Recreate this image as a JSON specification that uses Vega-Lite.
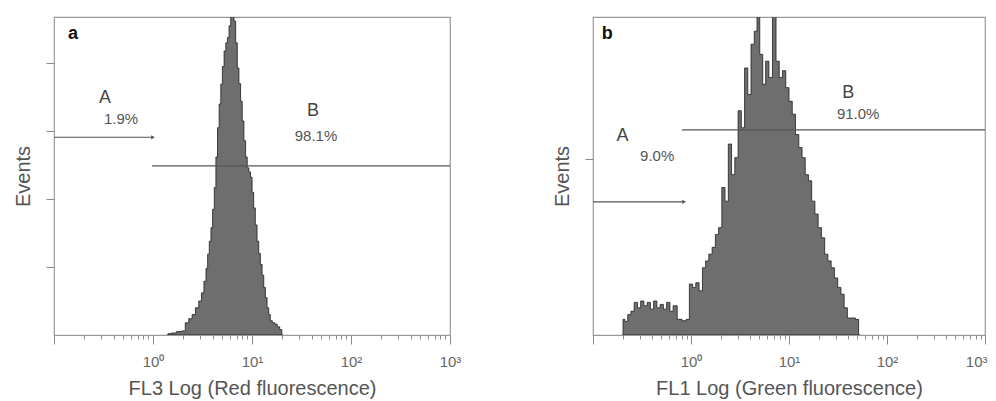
{
  "$schema": "https://vega.github.io/schema/vega-lite/v6.json",
  "background": "white",
  "padding": {"left": 12, "top": 16, "right": 0, "bottom": 0},
  "spacing": 89,
  "config": {
    "view": {"stroke": "#9a9a9a", "strokeWidth": 1.2},
    "font": "Liberation Sans",
    "axis": {"grid": false, "domain": false, "tickColor": "#8a8a8a", "tickWidth": 1, "labelColor": "#666", "labelFontSize": 15, "titleColor": "#555", "titleFontSize": 20, "titleFontWeight": "normal", "labelFont": "Liberation Sans", "titleFont": "Liberation Sans"}
  },
  "datasets": {
    "histA": [
      {"fl": 1.39, "n": 0}, {"fl": 1.45, "n": 2}, {"fl": 1.62, "n": 3}, {"fl": 1.85, "n": 5}, {"fl": 2.04, "n": 6},
      {"fl": 2.2, "n": 18}, {"fl": 2.4, "n": 24}, {"fl": 2.57, "n": 30}, {"fl": 2.8, "n": 40}, {"fl": 3.0, "n": 50},
      {"fl": 3.18, "n": 62}, {"fl": 3.36, "n": 79}, {"fl": 3.5, "n": 98}, {"fl": 3.63, "n": 119}, {"fl": 3.78, "n": 138},
      {"fl": 3.92, "n": 158}, {"fl": 4.08, "n": 185}, {"fl": 4.24, "n": 217}, {"fl": 4.4, "n": 262}, {"fl": 4.57, "n": 305},
      {"fl": 4.75, "n": 340}, {"fl": 4.93, "n": 369}, {"fl": 5.12, "n": 395}, {"fl": 5.33, "n": 418}, {"fl": 5.55, "n": 430},
      {"fl": 5.75, "n": 438}, {"fl": 5.98, "n": 455}, {"fl": 6.21, "n": 480}, {"fl": 6.45, "n": 470}, {"fl": 6.71, "n": 462},
      {"fl": 6.97, "n": 430}, {"fl": 7.24, "n": 393}, {"fl": 7.52, "n": 370}, {"fl": 7.82, "n": 344}, {"fl": 8.12, "n": 315},
      {"fl": 8.45, "n": 286}, {"fl": 8.78, "n": 262}, {"fl": 9.12, "n": 246}, {"fl": 9.48, "n": 240}, {"fl": 9.84, "n": 232},
      {"fl": 10.2, "n": 210}, {"fl": 10.6, "n": 187}, {"fl": 11.0, "n": 162}, {"fl": 11.5, "n": 138}, {"fl": 11.9, "n": 120},
      {"fl": 12.4, "n": 104}, {"fl": 12.9, "n": 88}, {"fl": 13.4, "n": 70}, {"fl": 13.9, "n": 55}, {"fl": 14.5, "n": 40},
      {"fl": 15.0, "n": 30}, {"fl": 15.6, "n": 21}, {"fl": 16.5, "n": 18}, {"fl": 17.5, "n": 16}, {"fl": 18.5, "n": 12},
      {"fl": 19.6, "n": 8}, {"fl": 20.4, "n": 0}
    ],
    "histB": [
      {"fl": 0.2, "n": 0}, {"fl": 0.205, "n": 23}, {"fl": 0.218, "n": 20}, {"fl": 0.235, "n": 30}, {"fl": 0.253, "n": 35},
      {"fl": 0.274, "n": 48}, {"fl": 0.295, "n": 40}, {"fl": 0.318, "n": 50}, {"fl": 0.344, "n": 43}, {"fl": 0.371, "n": 48},
      {"fl": 0.4, "n": 38}, {"fl": 0.432, "n": 50}, {"fl": 0.466, "n": 40}, {"fl": 0.503, "n": 45}, {"fl": 0.543, "n": 38},
      {"fl": 0.586, "n": 48}, {"fl": 0.633, "n": 35}, {"fl": 0.683, "n": 43}, {"fl": 0.766, "n": 23}, {"fl": 0.859, "n": 21},
      {"fl": 0.927, "n": 23}, {"fl": 1.0, "n": 75}, {"fl": 1.08, "n": 70}, {"fl": 1.16, "n": 77}, {"fl": 1.26, "n": 65},
      {"fl": 1.36, "n": 99}, {"fl": 1.46, "n": 109}, {"fl": 1.58, "n": 119}, {"fl": 1.71, "n": 129}, {"fl": 1.84, "n": 148},
      {"fl": 1.99, "n": 158}, {"fl": 2.14, "n": 217}, {"fl": 2.31, "n": 197}, {"fl": 2.5, "n": 281}, {"fl": 2.69, "n": 236},
      {"fl": 2.91, "n": 261}, {"fl": 3.14, "n": 330}, {"fl": 3.39, "n": 305}, {"fl": 3.66, "n": 393}, {"fl": 3.94, "n": 354},
      {"fl": 4.26, "n": 428}, {"fl": 4.59, "n": 447}, {"fl": 4.84, "n": 480}, {"fl": 5.23, "n": 413}, {"fl": 5.56, "n": 369},
      {"fl": 6.0, "n": 403}, {"fl": 6.48, "n": 379}, {"fl": 7.1, "n": 480}, {"fl": 7.66, "n": 403}, {"fl": 8.26, "n": 379},
      {"fl": 8.92, "n": 389}, {"fl": 9.62, "n": 364}, {"fl": 10.4, "n": 344}, {"fl": 11.2, "n": 325}, {"fl": 12.1, "n": 295},
      {"fl": 13.1, "n": 276}, {"fl": 14.1, "n": 261}, {"fl": 15.2, "n": 236}, {"fl": 16.4, "n": 227}, {"fl": 17.7, "n": 197},
      {"fl": 19.1, "n": 178}, {"fl": 20.6, "n": 158}, {"fl": 22.3, "n": 143}, {"fl": 24.0, "n": 119}, {"fl": 25.9, "n": 109},
      {"fl": 28.0, "n": 99}, {"fl": 30.2, "n": 84}, {"fl": 32.6, "n": 70}, {"fl": 35.2, "n": 60}, {"fl": 37.9, "n": 40},
      {"fl": 41.0, "n": 25}, {"fl": 45.3, "n": 25}, {"fl": 50.0, "n": 23}, {"fl": 52.7, "n": 0}
    ],
    "gatesA": [
      {"gate": "A", "x1": 0.1, "x2": 1.0, "y": 291},
      {"gate": "B", "x1": 0.98, "x2": 1000, "y": 249}
    ],
    "gatesB": [
      {"gate": "A", "x1": 0.1, "x2": 0.85, "y": 196},
      {"gate": "B", "x1": 0.81, "x2": 1000, "y": 302}
    ],
    "labelsA": [
      {"kind": "gate", "x": 0.327, "y": 349, "text": "A"},
      {"kind": "pct", "x": 0.475, "y": 318, "text": "1.9%"},
      {"kind": "gate", "x": 41.3, "y": 330, "text": "B"},
      {"kind": "pct", "x": 44.3, "y": 293, "text": "98.1%"},
      {"kind": "panel", "x": 0.156, "y": 443, "text": "a"}
    ],
    "labelsB": [
      {"kind": "gate", "x": 0.2, "y": 293, "text": "A"},
      {"kind": "pct", "x": 0.452, "y": 263, "text": "9.0%"},
      {"kind": "gate", "x": 40.2, "y": 356, "text": "B"},
      {"kind": "pct", "x": 50.8, "y": 325, "text": "91.0%"},
      {"kind": "panel", "x": 0.14, "y": 443, "text": "b"}
    ]
  },
  "hconcat": [
    {
      "width": 396,
      "height": 318,
      "layer": [
        {
          "data": {"name": "histA"},
          "mark": {"type": "area", "interpolate": "step", "color": "#6e6e6e", "stroke": "#1e1e1e", "strokeWidth": 0.8, "clip": true},
          "encoding": {
            "x": {"field": "fl", "type": "quantitative", "scale": {"type": "log", "domain": [0.1, 1000], "nice": false}, "title": "FL3 Log (Red fluorescence)",
              "axis": {"values": [0.1,0.2,0.3,0.4,0.5,0.6,0.7,0.8,0.9,1,2,3,4,5,6,7,8,9,10,20,30,40,50,60,70,80,90,100,200,300,400,500,600,700,800,900,1000],
                "tickSize": {"condition": {"test": "indexof([0.1,1,10,100,1000], datum.value) >= 0", "value": 9}, "value": 4},
                "labelExpr": "datum.value == 1 ? '10⁰' : datum.value == 10 ? '10¹' : datum.value == 100 ? '10²' : datum.value == 1000 ? '10³' : ''",
                "labelPadding": 10, "titlePadding": 9, "labelFlush": false, "labelOverlap": false}},
            "y": {"field": "n", "type": "quantitative", "scale": {"domain": [0, 468], "nice": false}, "title": "Events",
              "axis": {"values": [100, 200, 300, 400], "labels": false, "tickSize": 8, "titlePadding": 12}}
          }
        },
        {
          "data": {"name": "gatesA"},
          "mark": {"type": "rule", "color": "#555", "strokeWidth": 1.2},
          "encoding": {"x": {"field": "x1", "type": "quantitative"}, "x2": {"field": "x2"}, "y": {"field": "y", "type": "quantitative"}}
        },
        {
          "data": {"name": "gatesA"},
          "transform": [{"filter": "datum.gate == 'A'"}],
          "mark": {"type": "point", "shape": "triangle-right", "filled": true, "color": "#555", "size": 18, "opacity": 1},
          "encoding": {"x": {"field": "x2", "type": "quantitative"}, "y": {"field": "y", "type": "quantitative"}}
        },
        {
          "data": {"name": "labelsA"},
          "transform": [{"filter": "datum.kind == 'gate'"}],
          "mark": {"type": "text", "fontSize": 18, "color": "#444", "font": "Liberation Sans"},
          "encoding": {"x": {"field": "x", "type": "quantitative"}, "y": {"field": "y", "type": "quantitative"}, "text": {"field": "text"}}
        },
        {
          "data": {"name": "labelsA"},
          "transform": [{"filter": "datum.kind == 'pct'"}],
          "mark": {"type": "text", "fontSize": 15, "color": "#555", "font": "Liberation Sans"},
          "encoding": {"x": {"field": "x", "type": "quantitative"}, "y": {"field": "y", "type": "quantitative"}, "text": {"field": "text"}}
        },
        {
          "data": {"name": "labelsA"},
          "transform": [{"filter": "datum.kind == 'panel'"}],
          "mark": {"type": "text", "fontSize": 18, "fontWeight": "bold", "color": "#111", "font": "Liberation Sans"},
          "encoding": {"x": {"field": "x", "type": "quantitative"}, "y": {"field": "y", "type": "quantitative"}, "text": {"field": "text"}}
        }
      ]
    },
    {
      "width": 392,
      "height": 318,
      "layer": [
        {
          "data": {"name": "histB"},
          "mark": {"type": "area", "interpolate": "step", "color": "#6e6e6e", "stroke": "#1e1e1e", "strokeWidth": 0.8, "clip": true},
          "encoding": {
            "x": {"field": "fl", "type": "quantitative", "scale": {"type": "log", "domain": [0.1, 1000], "nice": false}, "title": "FL1 Log (Green fluorescence)",
              "axis": {"values": [0.1,0.2,0.3,0.4,0.5,0.6,0.7,0.8,0.9,1,2,3,4,5,6,7,8,9,10,20,30,40,50,60,70,80,90,100,200,300,400,500,600,700,800,900,1000],
                "tickSize": {"condition": {"test": "indexof([0.1,1,10,100,1000], datum.value) >= 0", "value": 9}, "value": 4},
                "labelExpr": "datum.value == 1 ? '10⁰' : datum.value == 10 ? '10¹' : datum.value == 100 ? '10²' : datum.value == 1000 ? '10³' : ''",
                "labelPadding": 10, "titlePadding": 9, "labelFlush": true, "labelFlushOffset": 2, "labelOverlap": false}},
            "y": {"field": "n", "type": "quantitative", "scale": {"domain": [0, 468], "nice": false}, "title": "Events",
              "axis": {"values": [259], "labels": false, "tickSize": 8, "titlePadding": 12}}
          }
        },
        {
          "data": {"name": "gatesB"},
          "mark": {"type": "rule", "color": "#555", "strokeWidth": 1.2},
          "encoding": {"x": {"field": "x1", "type": "quantitative"}, "x2": {"field": "x2"}, "y": {"field": "y", "type": "quantitative"}}
        },
        {
          "data": {"name": "gatesB"},
          "transform": [{"filter": "datum.gate == 'A'"}],
          "mark": {"type": "point", "shape": "triangle-right", "filled": true, "color": "#555", "size": 18, "opacity": 1},
          "encoding": {"x": {"field": "x2", "type": "quantitative"}, "y": {"field": "y", "type": "quantitative"}}
        },
        {
          "data": {"name": "labelsB"},
          "transform": [{"filter": "datum.kind == 'gate'"}],
          "mark": {"type": "text", "fontSize": 18, "color": "#444", "font": "Liberation Sans"},
          "encoding": {"x": {"field": "x", "type": "quantitative"}, "y": {"field": "y", "type": "quantitative"}, "text": {"field": "text"}}
        },
        {
          "data": {"name": "labelsB"},
          "transform": [{"filter": "datum.kind == 'pct'"}],
          "mark": {"type": "text", "fontSize": 15, "color": "#555", "font": "Liberation Sans"},
          "encoding": {"x": {"field": "x", "type": "quantitative"}, "y": {"field": "y", "type": "quantitative"}, "text": {"field": "text"}}
        },
        {
          "data": {"name": "labelsB"},
          "transform": [{"filter": "datum.kind == 'panel'"}],
          "mark": {"type": "text", "fontSize": 18, "fontWeight": "bold", "color": "#111", "font": "Liberation Sans"},
          "encoding": {"x": {"field": "x", "type": "quantitative"}, "y": {"field": "y", "type": "quantitative"}, "text": {"field": "text"}}
        }
      ]
    }
  ]
}
